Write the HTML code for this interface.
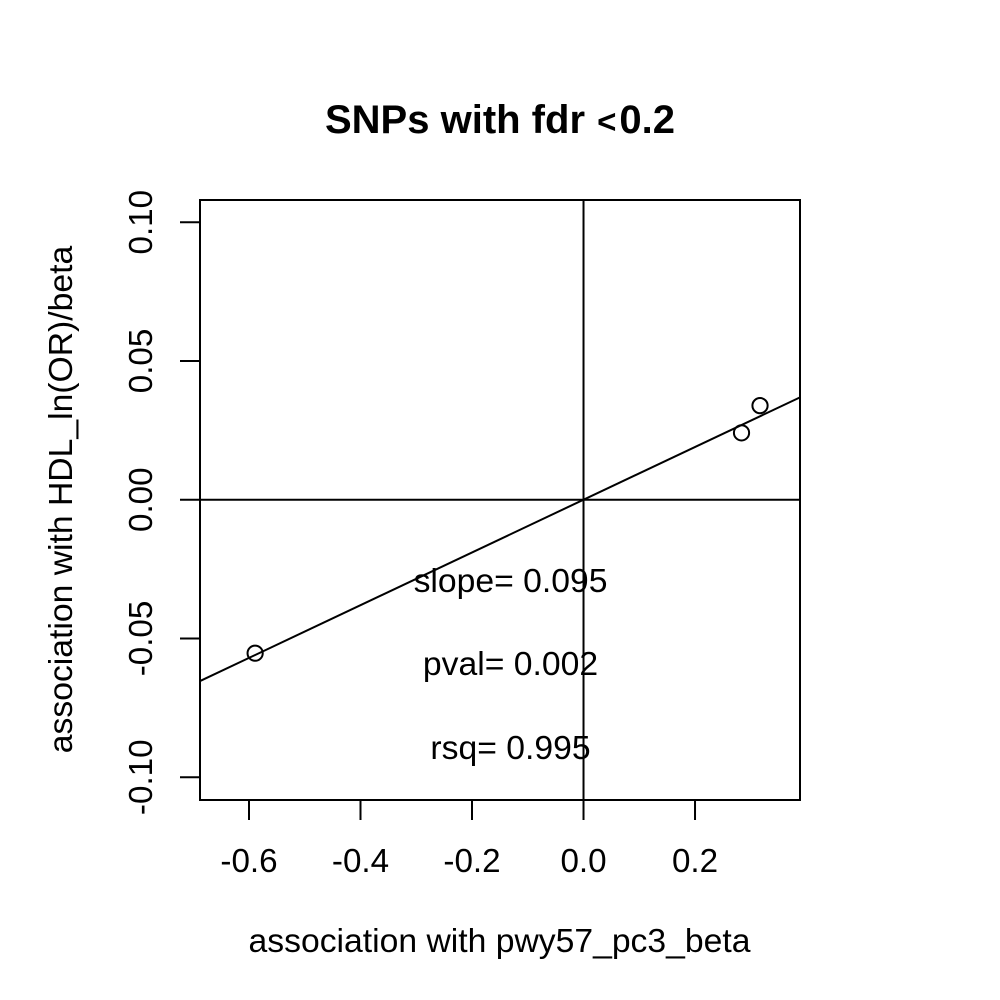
<!DOCTYPE html>
<html>
<head>
<meta charset="utf-8">
<style>
html,body{margin:0;padding:0;background:#fff;width:1000px;height:1000px;overflow:hidden}
svg{display:block}
text{font-family:"Liberation Sans",sans-serif;fill:#000}
</style>
</head>
<body>
<svg id="chart" xmlns="http://www.w3.org/2000/svg" width="1000" height="1000" viewBox="0 0 1000 1000">
<rect x="0" y="0" width="1000" height="1000" fill="#fff"/>
<text x="500" y="133" font-size="40" font-weight="bold" text-anchor="middle">SNPs with fdr <tspan font-size="33" dx="1">&lt;</tspan><tspan dx="3">0.2</tspan></text>
<text x="499.5" y="952" font-size="33.7" text-anchor="middle">association with pwy57_pc3_beta</text>
<text transform="translate(72,499.5) rotate(-90)" font-size="33.7" text-anchor="middle">association with HDL_ln(OR)/beta</text>
<g id="ticks"></g>
<g id="marks"></g>
<rect x="200" y="200" width="600" height="600" fill="none" stroke="#000" stroke-width="2"/>
<text x="510.5" y="592" font-size="33.7" text-anchor="middle">slope= 0.095</text>
<text x="510.5" y="675" font-size="33.7" text-anchor="middle">pval= 0.002</text>
<text x="510.5" y="759" font-size="33.7" text-anchor="middle">rsq= 0.995</text>
</svg>
<script>
const xTicks = [-0.6, -0.4, -0.2, 0.0, 0.2];
const xTickLabels = ["-0.6", "-0.4", "-0.2", "0.0", "0.2"];
const yTicks = [-0.10, -0.05, 0.00, 0.05, 0.10];
const yTickLabels = ["-0.10", "-0.05", "0.00", "0.05", "0.10"];
const pointX = [-0.589, 0.2834, 0.3166];
const pointY = [-0.0553, 0.0241, 0.0339];
const fitSlope = 0.095;
const fitIntercept = 0;
const xDomain = [-0.6879, 0.3883];
const yDomain = [-0.1082, 0.1080];

const NS = 'http://www.w3.org/2000/svg';
const PLOT = {left: 200, right: 800, top: 200, bottom: 800};
function sx(v) {
  return PLOT.left + (v - xDomain[0]) / (xDomain[1] - xDomain[0]) * (PLOT.right - PLOT.left);
}
function sy(v) {
  return PLOT.bottom - (v - yDomain[0]) / (yDomain[1] - yDomain[0]) * (PLOT.bottom - PLOT.top);
}
function mk(tag, attrs, parent) {
  const el = document.createElementNS(NS, tag);
  for (const k in attrs) el.setAttribute(k, attrs[k]);
  parent.appendChild(el);
  return el;
}
const ticksG = document.getElementById('ticks');
const marksG = document.getElementById('marks');
const lineStyle = {stroke: '#000', 'stroke-width': 2, fill: 'none'};

xTicks.forEach(function (t, i) {
  const tick = mk('line', Object.assign({x1: sx(t), x2: sx(t), y1: 800, y2: 820}, lineStyle), ticksG);
  
  
  const lab = mk('text', {x: sx(t), y: 872, 'font-size': 33.2, 'text-anchor': 'middle'}, ticksG);
  
  
  lab.textContent = xTickLabels[i];
});
yTicks.forEach(function (t, i) {
  const tick = mk('line', Object.assign({x1: 180, x2: 200, y1: sy(t), y2: sy(t)}, lineStyle), ticksG);
  
  
  const lab = mk('text', {transform: 'translate(152,' + sy(t) + ') rotate(-90)', 'font-size': 33.2, 'text-anchor': 'middle'}, ticksG);
  
  
  lab.textContent = yTickLabels[i];
});

const hLine = mk('line', Object.assign({x1: PLOT.left, x2: PLOT.right, y1: sy(0), y2: sy(0)}, lineStyle), marksG);


const vLine = mk('line', Object.assign({x1: sx(0), x2: sx(0), y1: PLOT.top, y2: PLOT.bottom}, lineStyle), marksG);


const fitLine = mk('line', Object.assign({
  x1: sx(xDomain[0]), y1: sy(fitIntercept + fitSlope * xDomain[0]),
  x2: sx(xDomain[1]), y2: sy(fitIntercept + fitSlope * xDomain[1])
}, lineStyle), marksG);



pointX.forEach(function (x, i) {
  const c = mk('circle', Object.assign({cx: sx(x), cy: sy(pointY[i]), r: 7.6}, lineStyle), marksG);
  
  
});
</script>
</body>
</html>
